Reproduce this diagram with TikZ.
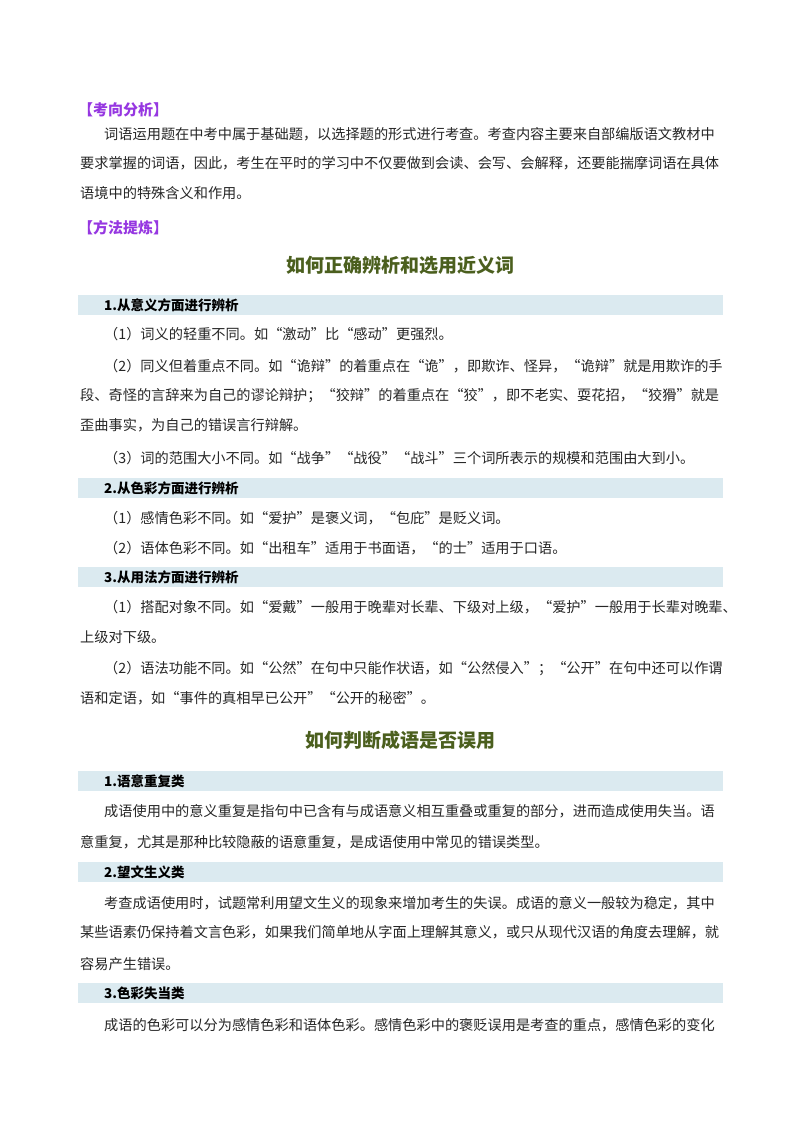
\documentclass[tikz,border=0pt]{standalone}
\usepackage{fontspec}
\setmainfont{Noto Sans CJK SC}
\newfontfamily\cjkb{Noto Sans CJK SC}[BoldFont={Noto Sans CJK SC Bold}]
\begin{document}
\begin{tikzpicture}[x=1pt,y=-1pt,
  body/.style={anchor=west,inner sep=0pt,font=\fontsize{14.2}{16}\selectfont,text=black!85},
  purp/.style={anchor=west,inner sep=0pt,font=\fontsize{15}{17}\selectfont\bfseries,text={rgb,255:red,150;green,55;blue,225}},
  ttl/.style={inner sep=0pt,font=\fontsize{19}{21}\selectfont\bfseries,text={rgb,255:red,75;green,95;blue,30}},
  bandtxt/.style={anchor=west,inner sep=0pt,font=\fontsize{13.5}{15}\selectfont\bfseries}]
\definecolor{band}{RGB}{219,234,240}
\fill[white] (0,0) rectangle (800,1132);
\newcommand\bandat[3]{\fill[band] (78,#1-10) rectangle (723,#1+10); \node[bandtxt] (#3) at (104,#1) {#2};}
\node[purp] (h1) at (78,110) {【考向分析】};
\node[body] (a1) at (104,134) {词语运用题在中考中属于基础题，以选择题的形式进行考查。考查内容主要来自部编版语文教材中};
\node[body] (a2) at (80,163) {要求掌握的词语，因此，考生在平时的学习中不仅要做到会读、会写、会解释，还要能揣摩词语在具体};
\node[body] (a3) at (80,193) {语境中的特殊含义和作用。};
\node[purp] (h2) at (78,228) {【方法提炼】};
\node[ttl] (t1) at (400,265) {如何正确辨析和选用近义词};
\bandat{305}{1.从意义方面进行辨析}{b1}
\node[body] (p1) at (104,334) {（1）词义的轻重不同。如“激动”比“感动”更强烈。};
\node[body] (p2) at (104,366) {（2）同义但着重点不同。如“诡辩”的着重点在“诡”，即欺诈、怪异，“诡辩”就是用欺诈的手};
\node[body] (p3) at (80,396) {段、奇怪的言辞来为自己的谬论辩护；“狡辩”的着重点在“狡”，即不老实、耍花招，“狡猾”就是};
\node[body] (p4) at (80,425) {歪曲事实，为自己的错误言行辩解。};
\node[body] (p5) at (104,458) {（3）词的范围大小不同。如“战争”“战役”“战斗”三个词所表示的规模和范围由大到小。};
\bandat{488}{2.从色彩方面进行辨析}{b2}
\node[body] (q1) at (104,518) {（1）感情色彩不同。如“爱护”是褒义词，“包庇”是贬义词。};
\node[body] (q2) at (104,548) {（2）语体色彩不同。如“出租车”适用于书面语，“的士”适用于口语。};
\bandat{577}{3.从用法方面进行辨析}{b3}
\node[body] (r1) at (104,607) {（1）搭配对象不同。如“爱戴”一般用于晚辈对长辈、下级对上级，“爱护”一般用于长辈对晚辈、};
\node[body] (r2) at (80,637) {上级对下级。};
\node[body] (r3) at (104,669) {（2）语法功能不同。如“公然”在句中只能作状语，如“公然侵入”；“公开”在句中还可以作谓};
\node[body] (r4) at (80,698) {语和定语，如“事件的真相早已公开”“公开的秘密”。};
\node[ttl] (t2) at (400,740) {如何判断成语是否误用};
\bandat{781}{1.语意重复类}{c1}
\node[body] (s1) at (104,811) {成语使用中的意义重复是指句中已含有与成语意义相互重叠或重复的部分，进而造成使用失当。语};
\node[body] (s2) at (80,842) {意重复，尤其是那种比较隐蔽的语意重复，是成语使用中常见的错误类型。};
\bandat{872}{2.望文生义类}{c2}
\node[body] (u1) at (104,903) {考查成语使用时，试题常利用望文生义的现象来增加考生的失误。成语的意义一般较为稳定，其中};
\node[body] (u2) at (80,932) {某些语素仍保持着文言色彩，如果我们简单地从字面上理解其意义，或只从现代汉语的角度去理解，就};
\node[body] (u3) at (80,964) {容易产生错误。};
\bandat{993}{3.色彩失当类}{c3}
\node[body] (v1) at (104,1025) {成语的色彩可以分为感情色彩和语体色彩。感情色彩中的褒贬误用是考查的重点，感情色彩的变化};
\end{tikzpicture}
\end{document}
